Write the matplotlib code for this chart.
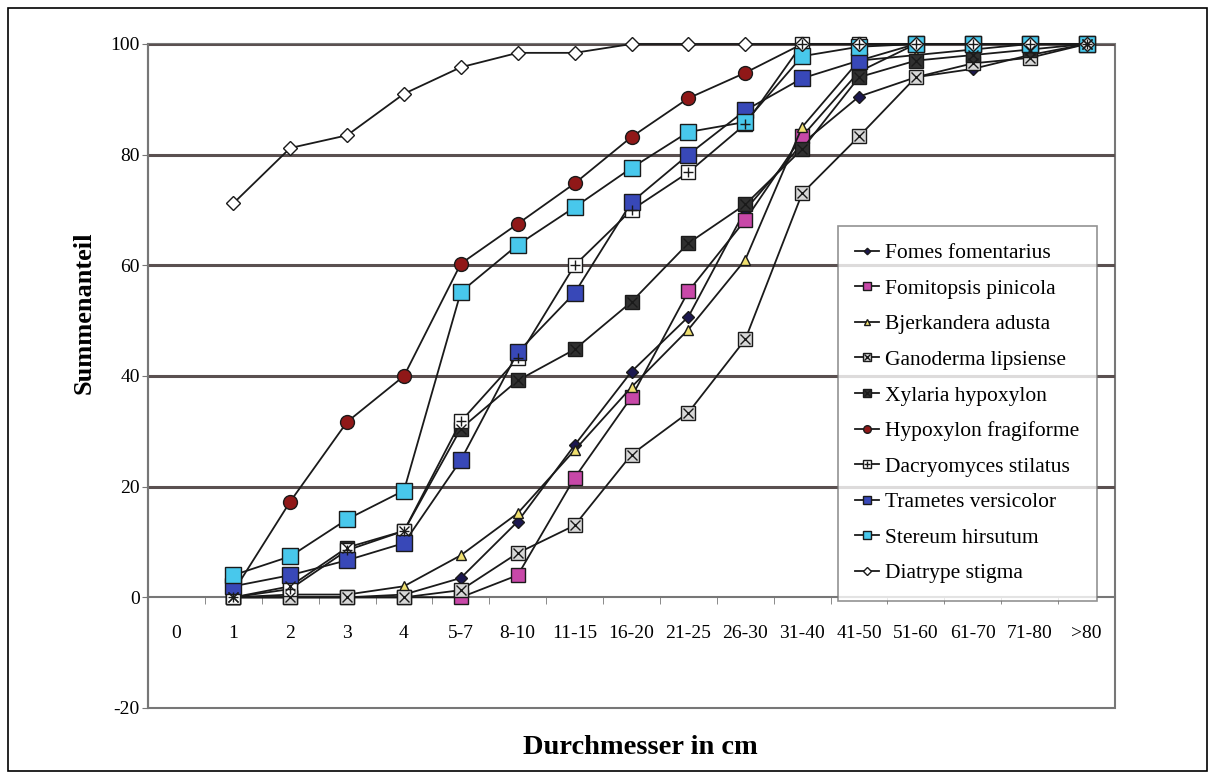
import numpy as np
import matplotlib
matplotlib.use("Agg")
import matplotlib.pyplot as plt
from matplotlib.patches import Rectangle

plt.rcParams['font.family'] = ['Liberation Serif', 'DejaVu Serif']
plt.rcParams['axes.unicode_minus'] = False

categories = ['0', '1', '2', '3', '4', '5-7', '8-10', '11-15', '16-20', '21-25',
              '26-30', '31-40', '41-50', '51-60', '61-70', '71-80', '>80']

nan = np.nan
fomes = [nan, 0, 0, 0, 0.5, 3.5, 13.7, 27.5, 40.8, 50.7, 70, 82, 90.5, 94, 95.5, 98, 100]
fomitopsis = [nan, 0, 0, 0, 0, 0, 4, 21.6, 36.2, 55.3, 68.2, 83.3, 95, 100, 100, 100, 100]
bjerkandera = [nan, 0, 0.5, 0.5, 2, 7.6, 15.2, 26.6, 38, 48.4, 61, 85, 97, 98, 99, 100, 100]
ganoderma = [nan, 0, 0, 0, 0, 1.3, 8, 13, 25.8, 33.4, 46.6, 73, 83.3, 94, 96.5, 97.5, 100]
xylaria = [nan, 0, 2, 9, 12, 30.5, 39.2, 44.8, 53.4, 64, 71, 81, 94, 97, 98, 99, 100]
hypoxylon = [nan, 1, 17.3, 31.7, 40, 60.3, 67.5, 74.8, 83.2, 90.2, 94.8, 100, 100, 100, 100, 100, 100]
dacryomyces = [nan, 0, 1.5, 8.5, 12, 31.8, 43.2, 60, 70, 76.8, 85.5, 100, 100, 100, 100, 100, 100]
trametes = [nan, 2, 4, 6.7, 9.8, 24.8, 44.3, 55, 71.4, 80, 88, 93.8, 97, 100, 100, 100, 100]
stereum = [nan, 4, 7.4, 14.1, 19.3, 55.2, 63.7, 70.5, 77.6, 84.1, 85.9, 97.8, 99.5, 100, 100, 100, 100]
diatrype = [nan, 71.2, 81.2, 83.5, 91, 95.8, 98.4, 98.4, 100, 100, 100, 100, 100, 100, 100, 100, 100]

fig = plt.figure(figsize=(12.15, 7.73), dpi=100)
ax = fig.add_axes([148 / 1215, 1 - 708 / 773, (1115 - 148) / 1215, (708 - 44) / 773])

x = np.arange(len(categories))

# gridlines
for g in [20, 40, 60, 80, 100]:
    ax.axhline(g, color='#5a5050', lw=2.2, zorder=1)

handles = []
labels = []

def serie(vals, label, marker, face, ms, over=None):
    h, = ax.plot(x, vals, color='#1a1a1a', lw=1.3, marker=marker, ms=ms,
                 mfc=face, mec='#1a1a1a', mew=1.0, zorder=3, clip_on=False)
    if over is not None:
        h2, = ax.plot(x, vals, ls='none', marker=over, ms=ms * 0.7, mec='#1a1a1a',
                      mew=1.0, zorder=4, clip_on=False)
        handles.append((h, h2))
    else:
        handles.append(h)
    labels.append(label)

serie(fomes, 'Fomes fomentarius', 'D', '#1c1850', 6)
serie(fomitopsis, 'Fomitopsis pinicola', 's', '#c848a8', 10)
serie(bjerkandera, 'Bjerkandera adusta', '^', '#f0e070', 7)
serie(ganoderma, 'Ganoderma lipsiense', 's', '#d8d8d8', 10, over='x')
serie(xylaria, 'Xylaria hypoxylon', 's', '#303030', 10, over='x')
serie(hypoxylon, 'Hypoxylon fragiforme', 'o', '#901818', 10)
serie(dacryomyces, 'Dacryomyces stilatus', 's', 'white', 10, over='+')
serie(trametes, 'Trametes versicolor', 's', '#3848b8', 11)
serie(stereum, 'Stereum hirsutum', 's', '#48c8ec', 11)
serie(diatrype, 'Diatrype stigma', 'D', 'white', 7)

ax.set_xlim(-0.5, len(categories) - 0.5)
ax.set_ylim(-20, 100)
ax.set_yticks([-20, 0, 20, 40, 60, 80, 100])
ax.set_xticks(x)
ax.set_xticklabels(categories)
ax.set_xticks(np.arange(-0.5, len(categories), 1), minor=True)

for s in ['top', 'right']:
    ax.spines[s].set_visible(False)
ax.spines['bottom'].set_position(('data', 0))
ax.spines['bottom'].set_color('#777777')
ax.spines['bottom'].set_linewidth(1.5)
ax.spines['left'].set_color('#777777')
ax.spines['left'].set_linewidth(1.5)

ax.tick_params(axis='x', which='major', length=0, pad=20, labelsize=14)
ax.tick_params(axis='x', which='minor', length=5, color='#777777', direction='out')
ax.tick_params(axis='y', length=4, pad=2, color='#777777', labelsize=14)

ax.add_patch(Rectangle((0, 0), 1, 1, transform=ax.transAxes, fill=False,
                       ec='#777777', lw=1.5, zorder=0, clip_on=False))

ax.set_ylabel('Summenanteil', fontsize=19, fontweight='bold')
ax.yaxis.set_label_coords(-0.054, 0.596)
fig.text(0.527, 1 - 748 / 773, 'Durchmesser in cm', fontsize=20.5, fontweight='bold',
         ha='center', va='center')

leg = ax.legend(handles, labels, loc='upper left', bbox_to_anchor=(838 / 1215, 1 - 226 / 773),
                bbox_transform=fig.transFigure, borderaxespad=0, fontsize=15.5, frameon=True,
                fancybox=False, edgecolor='#777777', markerscale=0.55, handlelength=1.1,
                handletextpad=0.3, labelspacing=0.72, borderpad=0.8)
leg.get_frame().set_linewidth(1.2)

fig.add_artist(Rectangle((8 / 1215, 0.002), 1 - 16 / 1215, 1 - 8 / 773 - 0.002,
                         transform=fig.transFigure, fill=False, ec='black', lw=1.2))

fig.savefig('out.png', dpi=100)
